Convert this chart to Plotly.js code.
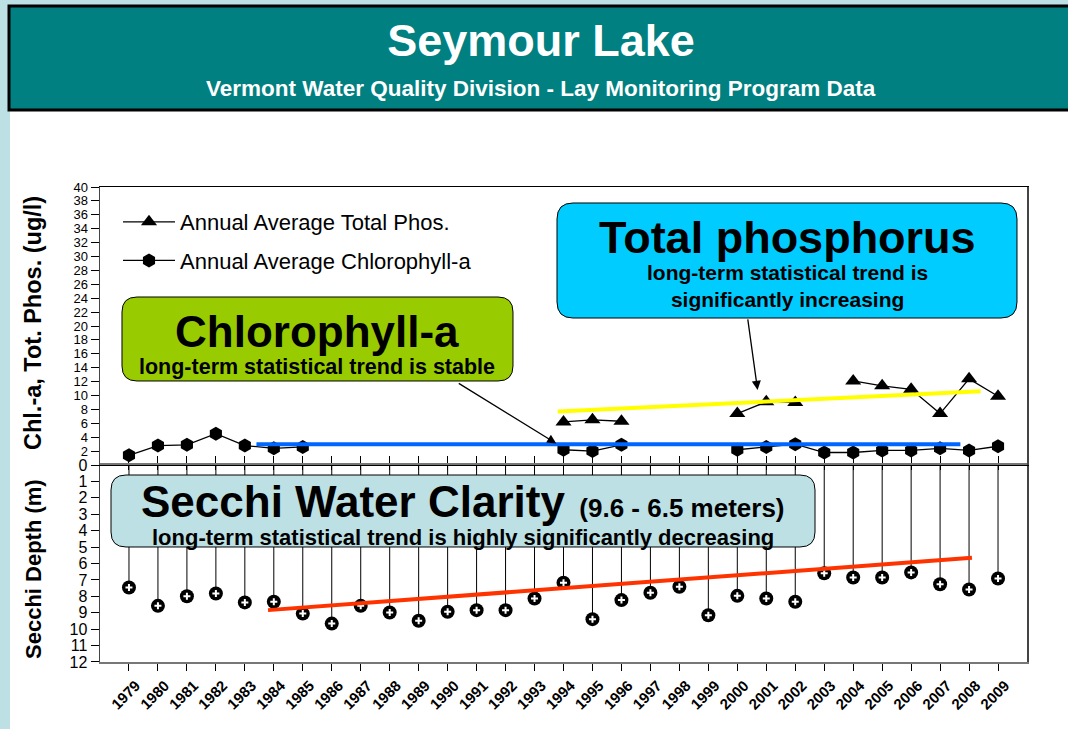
<!DOCTYPE html>
<html><head><meta charset="utf-8">
<script src="https://cdn.plot.ly/plotly-3.0.1.min.js"></script>
<style>html,body{margin:0;padding:0;background:#bce0e4;}#chart{width:1068px;height:729px;}</style>
</head><body><div id="chart"></div>
<script>
// ---------------- data ----------------
const years = [1979,1980,1981,1982,1983,1984,1985,1986,1987,1988,1989,1990,1991,1992,1993,1994,1995,1996,1997,1998,1999,2000,2001,2002,2003,2004,2005,2006,2007,2008,2009];
const yearLabels = ["1979","1980","1981","1982","1983","1984","1985","1986","1987","1988","1989","1990","1991","1992","1993","1994","1995","1996","1997","1998","1999","2000","2001","2002","2003","2004","2005","2006","2007","2008","2009"];
const chlorophyll = [1.4,2.8,2.9,4.5,2.8,2.4,2.6,null,null,null,null,null,null,null,null,2.2,2.0,2.9,null,null,null,2.2,2.6,3.0,1.8,1.8,2.1,2.1,2.4,2.1,2.7];
const totalPhos = [null,null,null,null,null,null,null,null,null,null,null,null,null,null,null,6.2,6.5,6.3,null,null,null,7.4,9.1,9.0,null,12.1,11.4,10.9,7.4,12.4,9.9];
const secchi = [7.46,8.58,7.99,7.83,8.37,8.33,9.05,9.66,8.58,8.98,9.49,8.94,8.84,8.84,8.13,7.17,9.39,8.23,7.78,7.42,9.15,7.97,8.13,8.33,6.60,6.85,6.85,6.54,7.26,7.58,6.91];
const secchiZero = secchi.map(() => 0);
const topTickVals = [0,2,4,6,8,10,12,14,16,18,20,22,24,26,28,30,32,34,36,38,40];
const topTickText = ["","2","4","6","8","10","12","14","16","18","20","22","24","26","28","30","32","34","36","38","40"];
const phosTrendX = [1993.8, 2008.4], phosTrendY = [7.7, 10.6];
const chlTrendX = [1983.4, 2007.7], chlTrendY = [3.0, 3.0];
const secchiTrendX = [1983.8, 2008.1], secchiTrendY = [8.84, 5.65];

// ---------------- geometry helpers (pixels -> paper) ----------------
const L = 100, T = 187, W = 927, H = 475;
const px = p => (p - L) / W;
const py = p => (T + H - p) / H;
function roundRect(x0, y0, x1, y1, r) {
  const P = (x, y) => px(x).toFixed(5) + ',' + py(y).toFixed(5);
  return 'M' + P(x0 + r, y0) + ' L' + P(x1 - r, y0) + ' Q' + P(x1, y0) + ' ' + P(x1, y0 + r) +
    ' L' + P(x1, y1 - r) + ' Q' + P(x1, y1) + ' ' + P(x1 - r, y1) +
    ' L' + P(x0 + r, y1) + ' Q' + P(x0, y1) + ' ' + P(x0, y1 - r) +
    ' L' + P(x0, y0 + r) + ' Q' + P(x0, y0) + ' ' + P(x0 + r, y0) + ' Z';
}

const FONT = 'Arial, "Liberation Sans", sans-serif';

const traces = [
  {x: years, y: totalPhos, xaxis: 'x2', yaxis: 'y', type: 'scatter', mode: 'lines+markers',
   name: 'Annual Average Total Phos.', legendgroup: 'p', connectgaps: false,
   line: {color: 'black', width: 1.3}, marker: {symbol: 'triangle-up', size: 14, color: 'black'}},
  {x: years, y: chlorophyll, xaxis: 'x2', yaxis: 'y', type: 'scatter', mode: 'lines+markers',
   name: 'Annual Average Chlorophyll-a', legendgroup: 'c', connectgaps: false,
   line: {color: 'black', width: 1.3}, marker: {symbol: 'hexagon', size: 14, color: 'black'}},
  {x: phosTrendX, y: phosTrendY, xaxis: 'x2', yaxis: 'y', type: 'scatter', mode: 'lines',
   showlegend: false, line: {color: '#ffff00', width: 4}},
  {x: chlTrendX, y: chlTrendY, xaxis: 'x2', yaxis: 'y', type: 'scatter', mode: 'lines',
   showlegend: false, line: {color: '#0066ff', width: 4}},
  {x: years, y: secchi, xaxis: 'x', yaxis: 'y2', type: 'scatter', mode: 'markers',
   showlegend: false,
   error_y: {type: 'data', symmetric: false, array: secchiZero, arrayminus: secchi, color: 'black', thickness: 1, width: 0},
   marker: {symbol: 'circle', size: 14, color: 'black'}},
  {x: years, y: secchi, xaxis: 'x', yaxis: 'y2', type: 'scatter', mode: 'markers',
   showlegend: false,
   marker: {symbol: 'cross-thin-open', size: 5, color: 'white', line: {color: 'white', width: 2}}},
  {x: secchiTrendX, y: secchiTrendY, xaxis: 'x', yaxis: 'y2', type: 'scatter', mode: 'lines',
   showlegend: false, line: {color: '#ff3300', width: 4}}
];

const shapes = [
  {type: 'rect', xref: 'paper', yref: 'paper', layer: 'below', x0: px(10), x1: px(1080), y0: py(740), y1: py(110),
   fillcolor: 'white', line: {width: 0}},
  {type: 'rect', xref: 'paper', yref: 'paper', x0: px(9), x1: px(1080), y0: py(110), y1: py(6),
   fillcolor: '#008080', line: {color: 'black', width: 3}},
  {type: 'path', xref: 'paper', yref: 'paper', path: roundRect(557, 203, 1017, 318, 16),
   fillcolor: '#00ccff', line: {color: 'black', width: 1}},
  {type: 'path', xref: 'paper', yref: 'paper', path: roundRect(122, 297, 513, 381, 15),
   fillcolor: '#99cc00', line: {color: 'black', width: 1}},
  {type: 'path', xref: 'paper', yref: 'paper', path: roundRect(111, 475, 815, 547, 15),
   fillcolor: '#bce0e4', line: {color: 'black', width: 1}}
];

const ann = (text, x, y, size, extra) => Object.assign({
  text: text, xref: 'paper', yref: 'paper', x: px(x), y: py(y), xanchor: 'center', yanchor: 'middle',
  showarrow: false, font: {family: FONT, size: size, color: 'black'}}, extra || {});

const annotations = [
  ann('<b>Vermont Water Quality Division - Lay Monitoring Program Data</b>', 541, 89, 22.5, {font: {family: FONT, size: 22.5, color: 'white'}}),
  ann('<b>Total phosphorus</b>', 787, 237, 45),
  ann('<b>long-term statistical trend is<br>significantly increasing</b>', 787, 286, 21),
  ann('<b>Chlorophyll-a</b>', 317, 331, 44),
  ann('<b>long-term statistical trend is stable</b>', 317, 367, 21.5),
  ann('<b>Secchi Water Clarity</b><b style="font-size:26px">  (9.6 - 6.5 meters)</b>', 463, 501, 44),
  ann('<b>long-term statistical trend is highly significantly decreasing</b>', 463, 537, 22),
  ann('<b>Chl.-a, Tot. Phos. (ug/l)</b>', 33, 323, 23.5, {textangle: -90}),
  ann('<b>Secchi Depth (m)</b>', 33, 569, 22, {textangle: -90}),
  {text: '', xref: 'x2', yref: 'y', x: 1993.75, y: 3.1, ax: -99, ay: -61, showarrow: true,
   arrowhead: 2, arrowsize: 1.4, arrowwidth: 1.3, arrowcolor: 'black'},
  {text: '', xref: 'x2', yref: 'y', x: 2000.7, y: 10.8, ax: -10, ay: -72, showarrow: true,
   arrowhead: 2, arrowsize: 1.4, arrowwidth: 1.3, arrowcolor: 'black'}
];

const layout = {
  width: 1068, height: 729,
  margin: {l: L, r: 1068 - L - W, t: T, b: 729 - T - H, pad: 0},
  paper_bgcolor: '#bce0e4', plot_bgcolor: 'white',
  font: {family: FONT, color: 'black'},
  title: {text: '<b>Seymour Lake</b>', font: {family: FONT, size: 45, color: 'white'},
          xref: 'paper', x: px(541), xanchor: 'center', yref: 'container', y: 1 - 40 / 729, yanchor: 'middle'},
  showlegend: true,
  legend: {x: px(118), y: py(201), xanchor: 'left', yanchor: 'top', bgcolor: 'rgba(0,0,0,0)',
           font: {family: FONT, size: 22, color: 'black'}, tracegroupgap: 7, itemwidth: 52,
           traceorder: 'grouped'},
  xaxis: {anchor: 'y2', type: 'linear', range: [1978, 2010], tickmode: 'array', tickvals: years, ticktext: yearLabels,
          tickangle: -45, tickfont: {family: FONT, size: 15, color: 'black', weight: 'bold'}, ticklabelshift: 7,
          ticks: 'outside', ticklen: 7, tickcolor: 'black', showline: true, linecolor: '#777', linewidth: 2,
          mirror: 'ticks', showgrid: false, zeroline: false, fixedrange: true},
  xaxis2: {anchor: 'y', matches: 'x', type: 'linear', range: [1978, 2010], tickmode: 'array', tickvals: years,
           showticklabels: false, ticks: 'outside', ticklen: 4, tickcolor: 'black',
           showline: true, linecolor: 'black', linewidth: 1, mirror: true, showgrid: false, zeroline: false},
  yaxis: {domain: [0.4147, 1], anchor: 'x2', range: [0, 40], tickmode: 'array', tickvals: topTickVals, ticktext: topTickText,
          ticks: 'outside', ticklen: 8, tickcolor: 'black', tickfont: {family: FONT, size: 13, color: 'black'},
          showline: true, linecolor: '#444', linewidth: 1.5, mirror: true, showgrid: false, zeroline: false},
  yaxis2: {domain: [0, 0.4147], anchor: 'x', range: [12, 0], tickmode: 'linear', tick0: 0, dtick: 1,
           ticks: 'outside', ticklen: 8, tickcolor: 'black', tickfont: {family: FONT, size: 16, color: 'black'},
           showline: true, linecolor: '#444', linewidth: 1.5, mirror: true, showgrid: false, zeroline: false},
  shapes: shapes,
  annotations: annotations
};

Plotly.newPlot('chart', traces, layout, {displayModeBar: false, staticPlot: true});
</script>
</body></html>
